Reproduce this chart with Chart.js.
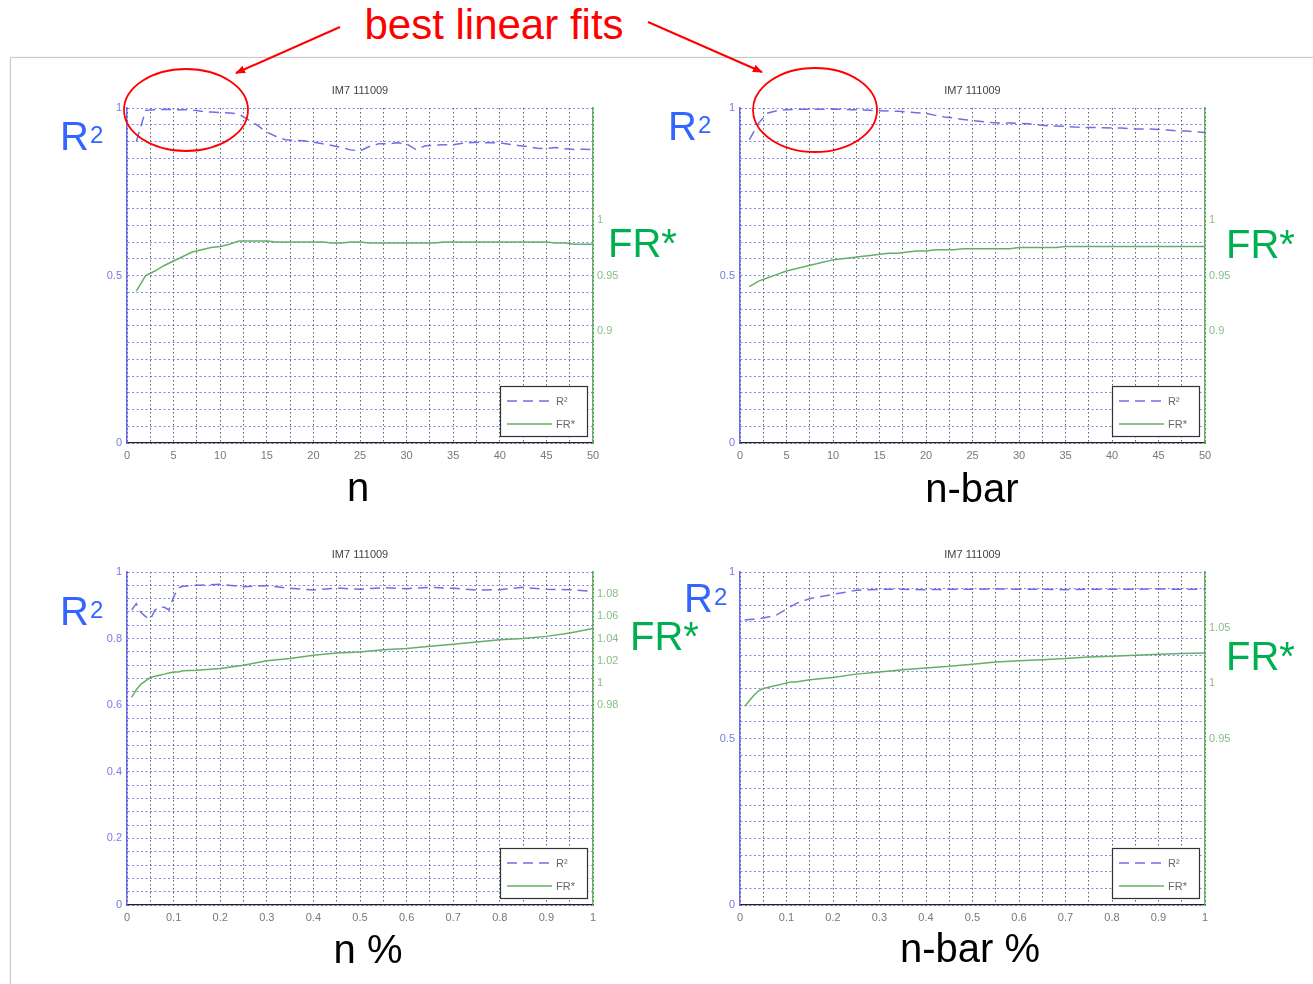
<!DOCTYPE html>
<html>
<head>
<meta charset="utf-8">
<script src="https://cdn.jsdelivr.net/npm/chart.js@4.4.0/dist/chart.umd.min.js"></script>
<style>
  body { margin: 0; background: #fff; width: 1313px; height: 984px; overflow: hidden; position: relative;
         font-family: "Liberation Sans", Arial, sans-serif; }
  .frame { position: absolute; left: 10px; top: 57px; width: 1320px; height: 960px;
           border: 1px solid #c9c9c9; box-shadow: 1px 1px 3px rgba(0,0,0,0.2); }
  canvas { position: absolute; }
  .big { position: absolute; font-size: 40px; line-height: 40px; white-space: nowrap; }
  .big sup { font-size: 24px; position: relative; top: -1px; vertical-align: top; margin-left: 1px; }
  .blue { color: #3366ff; }
  .green { color: #00b050; }
  .xl { position: absolute; width: 300px; text-align: center; font-size: 40px; line-height: 40px; color: #000; }
  .head { position: absolute; left: 244px; top: 4px; width: 500px; text-align: center;
          font-size: 42px; line-height: 42px; color: #ff0000; }
  svg { position: absolute; left: 0; top: 0; pointer-events: none; }
</style>
</head>
<body>
<div class="frame"></div>
<div class="head">best linear fits</div>

<canvas id="c1" width="566" height="383" style="left:77px;top:84px"></canvas>
<canvas id="c2" width="565" height="383" style="left:690px;top:84px"></canvas>
<canvas id="c3" width="566" height="381" style="left:77px;top:548px"></canvas>
<canvas id="c4" width="565" height="381" style="left:690px;top:548px"></canvas>

<div class="big blue" style="left:60px;top:116px">R<sup>2</sup></div>
<div class="big green" style="left:608px;top:223px">FR*</div>
<div class="big blue" style="left:668px;top:106px">R<sup>2</sup></div>
<div class="big green" style="left:1226px;top:224px">FR*</div>
<div class="big blue" style="left:60px;top:591px">R<sup>2</sup></div>
<div class="big green" style="left:630px;top:616px">FR*</div>
<div class="big blue" style="left:684px;top:578px">R<sup>2</sup></div>
<div class="big green" style="left:1226px;top:636px">FR*</div>

<div class="xl" style="left:208px;top:467px">n</div>
<div class="xl" style="left:822px;top:468px">n-bar</div>
<div class="xl" style="left:218px;top:929px">n %</div>
<div class="xl" style="left:820px;top:928px">n-bar %</div>

<svg width="1313" height="984">
  <defs>
    <marker id="ah" markerWidth="10" markerHeight="8" refX="9" refY="4" orient="auto" markerUnits="userSpaceOnUse">
      <path d="M0,0 L10,4 L0,8 z" fill="#ff0000"/>
    </marker>
  </defs>
  <line x1="340" y1="27" x2="236" y2="73" stroke="#ff0000" stroke-width="2" marker-end="url(#ah)"/>
  <line x1="648" y1="22" x2="762" y2="72" stroke="#ff0000" stroke-width="2" marker-end="url(#ah)"/>
  <ellipse cx="186" cy="110" rx="62" ry="41" fill="none" stroke="#ff0000" stroke-width="1.8"/>
  <ellipse cx="815" cy="110" rx="62" ry="42" fill="none" stroke="#ff0000" stroke-width="1.8"/>
</svg>

<script>
// x values
const nX = [1,2,3,4,5,6,7,8,9,10,11,12,13,14,15,16,17,18,19,20,21,22,23,24,25,
            26,27,28,29,30,31,32,33,34,35,36,37,38,39,40,41,42,43,44,45,46,47,48,49,50];
const pctX = [0.01,0.02,0.03,0.04,0.05,0.06,0.07,0.08,0.09,0.10,0.11,0.12,0.15,0.20,0.25,
              0.30,0.35,0.40,0.45,0.50,0.55,0.60,0.65,0.70,0.75,0.80,0.85,0.90,0.95,1.00];

// n
const nR2 = [0.900,0.993,0.995,0.996,0.995,0.995,0.994,0.990,0.988,0.986,
             0.985,0.982,0.965,0.948,0.928,0.915,0.905,0.903,0.902,0.898,
             0.893,0.888,0.882,0.875,0.872,0.885,0.893,0.893,0.896,0.893,
             0.876,0.887,0.889,0.890,0.890,0.895,0.897,0.897,0.896,0.896,
             0.892,0.888,0.885,0.880,0.879,0.882,0.878,0.876,0.877,0.876];
const nFR = [0.936,0.950,0.954,0.959,0.963,0.967,0.971,0.973,0.975,0.976,
             0.978,0.981,0.981,0.981,0.981,0.980,0.980,0.980,0.980,0.980,
             0.980,0.979,0.979,0.980,0.980,0.979,0.979,0.979,0.979,0.979,
             0.979,0.979,0.979,0.980,0.980,0.980,0.980,0.980,0.980,0.980,
             0.980,0.980,0.980,0.980,0.980,0.979,0.979,0.978,0.978,0.978];

// n-bar
const nbarR2 = [0.905,0.955,0.985,0.992,0.995,0.996,0.996,0.996,0.996,0.996,
                0.996,0.995,0.994,0.993,0.992,0.991,0.990,0.988,0.986,0.984,
                0.978,0.973,0.970,0.966,0.962,0.960,0.957,0.955,0.955,0.954,
                0.953,0.950,0.947,0.946,0.945,0.943,0.942,0.942,0.941,0.940,
                0.940,0.938,0.937,0.937,0.936,0.934,0.932,0.931,0.929,0.927];
const nbarFR = [0.940,0.945,0.948,0.951,0.954,0.956,0.958,0.960,0.962,0.964,
                0.965,0.966,0.967,0.968,0.969,0.970,0.970,0.971,0.972,0.972,
                0.973,0.973,0.973,0.974,0.974,0.974,0.974,0.974,0.974,0.975,
                0.975,0.975,0.975,0.975,0.976,0.976,0.976,0.976,0.976,0.976,
                0.976,0.976,0.976,0.976,0.976,0.976,0.976,0.976,0.976,0.976];

// n %
const pctR2 = [0.886,0.905,0.878,0.866,0.858,0.886,0.895,0.894,0.886,0.925,
               0.952,0.957,0.960,0.963,0.956,0.959,0.951,0.946,0.952,0.948,
               0.953,0.950,0.954,0.951,0.946,0.947,0.954,0.948,0.947,0.942];
const pctFR = [0.987,0.994,0.999,1.002,1.005,1.006,1.007,1.008,1.009,1.010,
               1.010,1.011,1.0115,1.013,1.016,1.020,1.022,1.025,1.027,1.028,
               1.030,1.031,1.033,1.035,1.037,1.039,1.040,1.042,1.045,1.049];

// n-bar %
const pbarR2 = [0.856,0.857,0.858,0.859,0.862,0.865,0.868,0.872,0.880,0.889,
                0.897,0.905,0.920,0.933,0.945,0.948,0.948,0.947,0.948,0.948,
                0.949,0.948,0.948,0.947,0.948,0.948,0.948,0.949,0.948,0.948];
const pbarFR = [0.979,0.984,0.989,0.993,0.995,0.996,0.997,0.998,0.999,1.000,
                1.001,1.001,1.003,1.005,1.008,1.010,1.012,1.0135,1.015,1.017,
                1.019,1.020,1.021,1.022,1.0235,1.024,1.025,1.026,1.0265,1.027];

// right-axis tick labels
const frTicksN = [0.9, 0.95, 1];
const frTicksPct = [0.98, 1, 1.02, 1.04, 1.06, 1.08];
const frTicksPbar = [0.95, 1, 1.05];

const BLUE = 'rgba(95,95,225,0.9)';
const GREEN = 'rgba(95,170,95,0.95)';

const insideLegend = {
  id: 'insideLegend',
  afterDraw(chart) {
    const { ctx, chartArea: a } = chart;
    const w = 87, h = 50;
    const x = Math.round(a.right - 6 - w), y = Math.round(a.bottom - 7 - h);
    ctx.save();
    ctx.fillStyle = '#fff';
    ctx.fillRect(x, y, w, h);
    ctx.strokeStyle = '#333';
    ctx.lineWidth = 1.2;
    ctx.strokeRect(x + 0.5, y + 0.5, w, h);
    chart.data.datasets.forEach((ds, i) => {
      const ly = y + 15 + i * 23;
      ctx.strokeStyle = ds.borderColor;
      ctx.lineWidth = 1.5;
      ctx.setLineDash(ds.borderDash || []);
      ctx.beginPath();
      ctx.moveTo(x + 7, ly);
      ctx.lineTo(x + 52, ly);
      ctx.stroke();
      ctx.setLineDash([]);
      ctx.fillStyle = '#666';
      ctx.font = '11px "Liberation Sans", Arial';
      ctx.textBaseline = 'middle';
      ctx.fillText(ds.label, x + 56, ly + 1);
    });
    ctx.restore();
  }
};

function fmt(v) { return String(+v.toFixed(2)); }

function makeChart(id, xs, r2, fr, o) {
  const labelAt = (v, step) => {
    const k = Math.round(v / step);
    return Math.abs(v - k * step) < 1e-6 ? fmt(k * step) : '';
  };
  new Chart(document.getElementById(id), {
    type: 'line',
    data: {
      datasets: [
        { label: 'R²', data: xs.map((x, i) => ({ x, y: r2[i] })), yAxisID: 'y',
          borderColor: BLUE, borderWidth: 1.5, borderDash: [10, 6], pointRadius: 0, tension: 0 },
        { label: 'FR*', data: xs.map((x, i) => ({ x, y: fr[i] })), yAxisID: 'y1',
          borderColor: GREEN, borderWidth: 1.5, pointRadius: 0, tension: 0 }
      ]
    },
    options: {
      responsive: false,
      animation: false,
      layout: { padding: 0 },
      plugins: {
        legend: { display: false },
        tooltip: { enabled: false },
        title: { display: true, text: 'IM7 111009', color: '#444',
                 font: { size: 11, weight: 'normal', family: '"Liberation Sans", Arial' },
                 padding: { top: 0, bottom: 10.8 } }
      },
      scales: {
        x: {
          type: 'linear', min: 0, max: o.xMax,
          afterFit: (s) => { s.height = 24; },
          grid: { color: 'rgba(30,30,30,0.7)', drawTicks: false, lineWidth: 1 },
          border: { color: '#222', width: 1.2, dash: [1.5, 2.5] },
          ticks: { stepSize: o.xGrid, autoSkip: false, maxRotation: 0, padding: 6, color: '#777',
                   font: { size: 11, family: '"Liberation Sans", Arial' },
                   callback: (v) => labelAt(v, o.xLab) }
        },
        y: {
          position: 'left', min: 0, max: 1,
          afterFit: (s) => { s.width = 50; },
          grid: { color: 'rgba(80,80,230,0.7)', drawTicks: false, lineWidth: 1 },
          border: { color: 'rgba(90,90,235,0.9)', width: 1.5, dash: [2, 2.5] },
          ticks: { stepSize: o.yGrid, autoSkip: false, padding: 5, color: '#7a7ae6',
                   font: { size: 11, family: '"Liberation Sans", Arial' },
                   callback: (v) => labelAt(v, o.yLab) }
        },
        y1: {
          position: 'right', min: 0.8, max: 1.1,
          afterFit: (s) => { s.width = 50; },
          afterBuildTicks: (s) => { s.ticks = o.frTicks.map(v => ({ value: v })); },
          grid: { drawOnChartArea: false, drawTicks: false },
          border: { color: 'rgba(90,170,90,0.9)', width: 1.5 },
          ticks: { autoSkip: false, padding: 4, color: '#86c086',
                   font: { size: 11, family: '"Liberation Sans", Arial' },
                   callback: (v) => fmt(v) }
        }
      }
    },
    plugins: [insideLegend]
  });
}

makeChart('c1', nX, nR2, nFR, { xMax: 50, xGrid: 2.5, xLab: 5, yGrid: 0.05, yLab: 0.5, frTicks: frTicksN });
makeChart('c2', nX, nbarR2, nbarFR, { xMax: 50, xGrid: 2.5, xLab: 5, yGrid: 0.05, yLab: 0.5, frTicks: frTicksN });
makeChart('c3', pctX, pctR2, pctFR, { xMax: 1, xGrid: 0.05, xLab: 0.1, yGrid: 0.04, yLab: 0.2, frTicks: frTicksPct });
makeChart('c4', pctX, pbarR2, pbarFR, { xMax: 1, xGrid: 0.05, xLab: 0.1, yGrid: 0.05, yLab: 0.5, frTicks: frTicksPbar });
</script>
</body>
</html>
